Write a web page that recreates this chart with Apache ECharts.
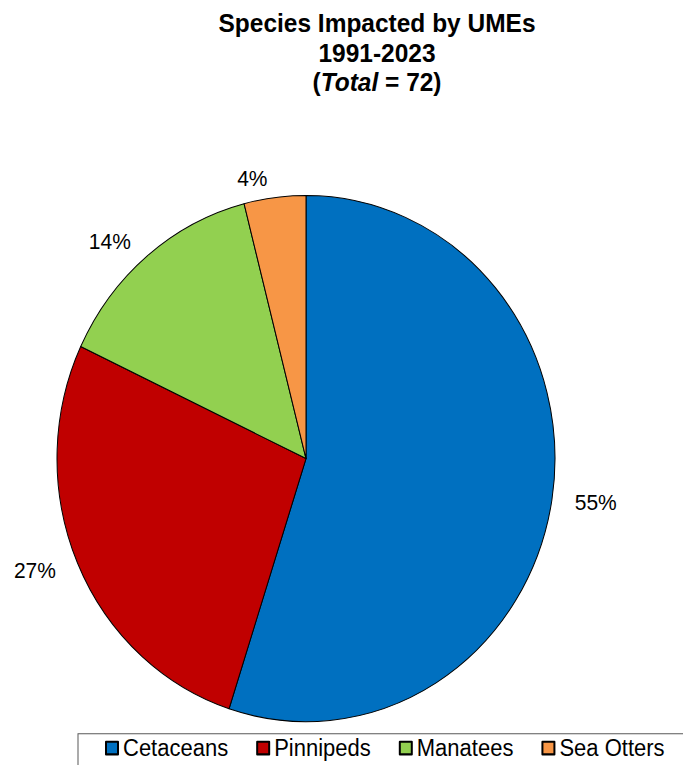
<!DOCTYPE html>
<html>
<head>
<meta charset="utf-8">
<script src="https://cdn.jsdelivr.net/npm/echarts@6/dist/echarts.min.js"></script>
<style>
html, body { margin: 0; padding: 0; background: #fff; overflow: hidden; }
#wrap { width: 683px; height: 765px; overflow: hidden; }
#chart { width: 683px; height: 724px; transform: scaleY(1.0566); transform-origin: 0 0; }
</style>
</head>
<body>
<div id="wrap"><div id="chart"></div></div>
<script>
const categories = ['Cetaceans', 'Pinnipeds', 'Manatees', 'Sea Otters'];
const percentValues = [55, 27, 14, 4];
const sliceColors = ['#0070C0', '#C00000', '#92D050', '#F79646'];

const FONT = '"Liberation Sans", Arial, sans-serif';

const chart = echarts.init(document.getElementById('chart'), null, { renderer: 'svg' });

const pieData = categories.map((name, i) => ({
  name: name,
  value: percentValues[i],
  itemStyle: { color: sliceColors[i] }
}));

chart.setOption({
  backgroundColor: '#ffffff',
  animation: false,
  title: {
    left: 377,
    top: 7.5,
    padding: 0,
    textAlign: 'center',
    text: '{b|Species Impacted by UMEs}\n{b|1991-2023}\n{b|(}{i|Total}{b| = 72)}',
    textStyle: {
      align: 'center',
      rich: {
        b: { fontFamily: FONT, fontSize: 24.5, fontWeight: 'bold', color: '#000', lineHeight: 28, align: 'center' },
        i: { fontFamily: FONT, fontSize: 24.5, fontWeight: 'bold', fontStyle: 'italic', color: '#000', lineHeight: 28, align: 'center' }
      }
    }
  },
  legend: {
    left: 105,
    top: 697,
    padding: 0,
    itemWidth: 12,
    itemHeight: 12,
    itemGap: 28,
    icon: 'rect',
    textStyle: { fontFamily: FONT, fontSize: 22, color: '#000' },
    data: categories
  },
  graphic: [{
    type: 'rect',
    shape: { x: 78, y: 694.5, width: 700, height: 100 },
    style: { fill: 'none', stroke: '#595959', lineWidth: 1 },
    silent: true,
    z: -1
  }],
  series: [{
    type: 'pie',
    center: [306, 434],
    radius: 249,
    startAngle: 90,
    clockwise: true,
    avoidLabelOverlap: false,
    itemStyle: { borderColor: '#000', borderWidth: 1 },
    label: {
      show: true,
      position: 'outside',
      formatter: '{c}%',
      fontFamily: FONT,
      fontSize: 21,
      color: '#000',
      distanceToLabelLine: 5
    },
    labelLine: { show: false, length: 18, length2: 0 },
    emphasis: { disabled: true },
    data: pieData
  }]
});
</script>
</body>
</html>
